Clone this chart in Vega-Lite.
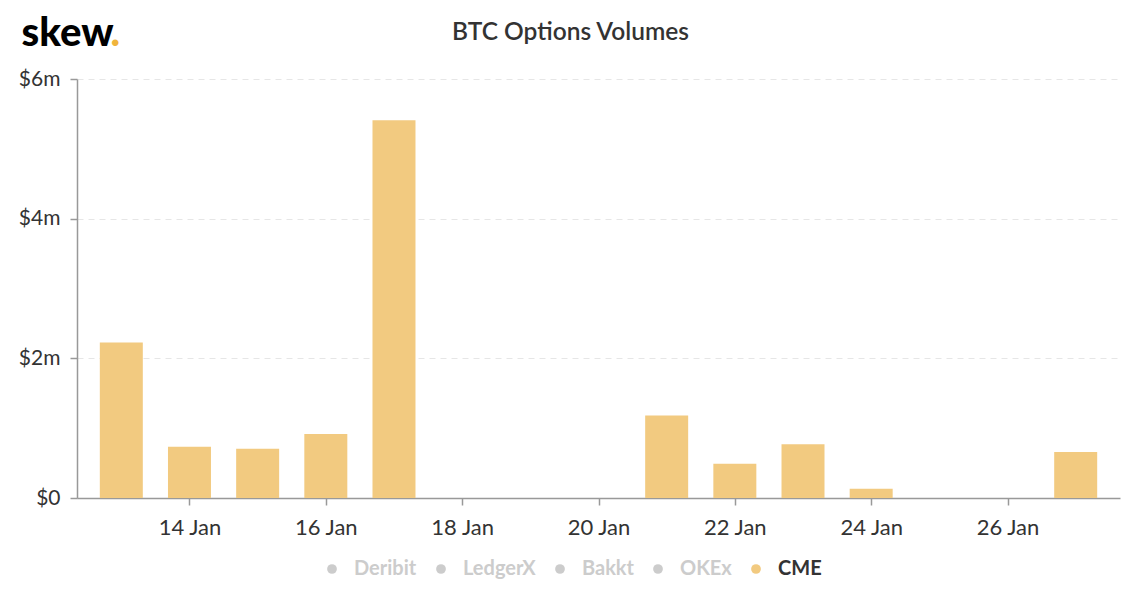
{
  "$schema": "https://vega.github.io/schema/vega-lite/v6.json",
  "width": 1043,
  "height": 419,
  "autosize": {"type": "none"},
  "padding": {"left": 77, "top": 79, "right": 20, "bottom": 102},
  "background": "#ffffff",
  "config": {
    "font": "Lato",
    "view": {"stroke": null}
  },
  "title": {
    "text": "BTC Options Volumes",
    "anchor": "middle",
    "dx": -28,
    "offset": 0,
    "dy": 32,
    "fontSize": 24.5,
    "fontWeight": 600,
    "color": "#333333",
    "font": "Lato"
  },
  "data": {
    "values": [
      {"date": "2020-01-13", "exchange": "CME", "volume": 2226000},
      {"date": "2020-01-14", "exchange": "CME", "volume": 734000},
      {"date": "2020-01-15", "exchange": "CME", "volume": 705000},
      {"date": "2020-01-16", "exchange": "CME", "volume": 916000},
      {"date": "2020-01-17", "exchange": "CME", "volume": 5410000},
      {"date": "2020-01-18", "exchange": "CME", "volume": 0},
      {"date": "2020-01-19", "exchange": "CME", "volume": 0},
      {"date": "2020-01-20", "exchange": "CME", "volume": 0},
      {"date": "2020-01-21", "exchange": "CME", "volume": 1180000},
      {"date": "2020-01-22", "exchange": "CME", "volume": 490000},
      {"date": "2020-01-23", "exchange": "CME", "volume": 770000},
      {"date": "2020-01-24", "exchange": "CME", "volume": 133000},
      {"date": "2020-01-25", "exchange": "CME", "volume": 0},
      {"date": "2020-01-26", "exchange": "CME", "volume": 0},
      {"date": "2020-01-27", "exchange": "CME", "volume": 660000}
    ]
  },
  "mark": {"type": "bar", "width": 43},
  "encoding": {
    "x": {
      "field": "date",
      "type": "temporal",
      "scale": {
        "type": "utc",
        "nice": false,
        "padding": 0,
        "domain": [
          {"year": 2020, "month": 1, "date": 12, "hours": 8, "minutes": 24, "utc": true},
          {"year": 2020, "month": 1, "date": 27, "hours": 15, "minutes": 36, "utc": true}
        ]
      },
      "axis": {
        "values": [
          {"year": 2020, "month": 1, "date": 14, "utc": true},
          {"year": 2020, "month": 1, "date": 16, "utc": true},
          {"year": 2020, "month": 1, "date": 18, "utc": true},
          {"year": 2020, "month": 1, "date": 20, "utc": true},
          {"year": 2020, "month": 1, "date": 22, "utc": true},
          {"year": 2020, "month": 1, "date": 24, "utc": true},
          {"year": 2020, "month": 1, "date": 26, "utc": true}
        ],
        "labelExpr": "utcFormat(datum.value, '%-d %b')",
        "labelFontSize": 22,
        "labelColor": "#333333",
        "labelPadding": 12,
        "labelFlush": false,
        "tickSize": 7,
        "tickColor": "#999999",
        "tickWidth": 1.5,
        "domainColor": "#999999",
        "domainWidth": 1.5,
        "grid": false,
        "title": ".",
        "titleColor": "#F0B43C",
        "titleFontSize": 40,
        "titleFontWeight": 900,
        "titleFont": "Lato",
        "titleAlign": "left",
        "titleBaseline": "alphabetic",
        "titleAnchor": null,
        "titleX": 33,
        "titleY": -453
      }
    },
    "y": {
      "field": "volume",
      "type": "quantitative",
      "scale": {"domain": [0, 6000000], "nice": false},
      "axis": {
        "values": [0, 2000000, 4000000, 6000000],
        "labelExpr": "datum.value == 0 ? '$0' : '$' + (datum.value / 1000000) + 'm'",
        "labelFontSize": 21,
        "labelColor": "#333333",
        "labelPadding": 10,
        "tickSize": 7,
        "tickColor": "#999999",
        "tickWidth": 1.5,
        "domainColor": "#999999",
        "domainWidth": 1.5,
        "grid": true,
        "gridColor": "#e6e6e6",
        "gridDash": [6, 5],
        "gridWidth": 1,
        "title": "skew",
        "titleColor": "#000000",
        "titleFontSize": 40,
        "titleFontWeight": 900,
        "titleFont": "Lato",
        "titleAngle": 0,
        "titleAlign": "left",
        "titleBaseline": "alphabetic",
        "titleAnchor": null,
        "titleX": -56,
        "titleY": -34
      }
    },
    "color": {
      "field": "exchange",
      "type": "nominal",
      "scale": {
        "domain": ["Deribit", "LedgerX", "Bakkt", "OKEx", "CME"],
        "range": ["#cccccc", "#cccccc", "#cccccc", "#cccccc", "#F2CA80"]
      },
      "legend": {
        "title": null,
        "orient": "none",
        "direction": "horizontal",
        "legendX": 245,
        "legendY": 480,
        "symbolType": "circle",
        "symbolSize": 95,
        "symbolStrokeWidth": 0,
        "symbolOpacity": 1,
        "labelFontSize": 20,
        "labelFontWeight": "bold",
        "labelFont": "Lato",
        "labelOffset": 12,
        "columnPadding": 14,
        "labelColor": {"expr": "datum.label == 'CME' ? '#333333' : '#cccccc'"}
      }
    }
  }
}
